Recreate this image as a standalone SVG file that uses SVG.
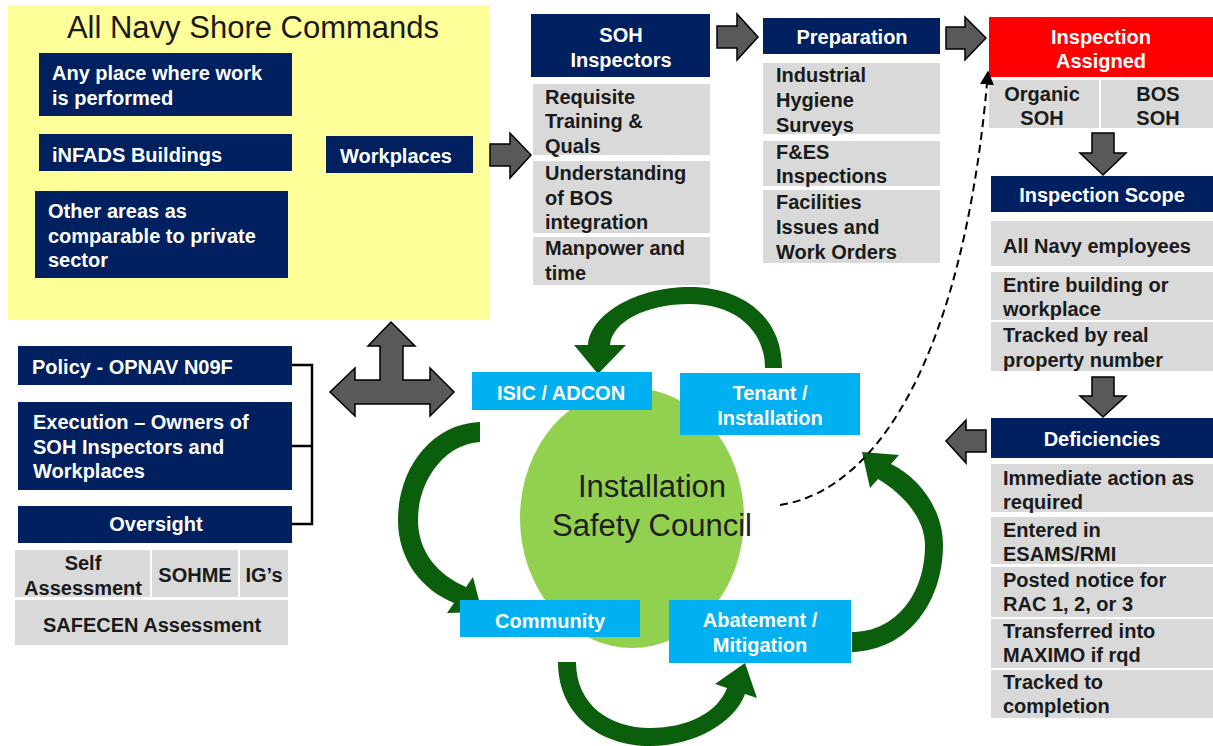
<svg xmlns="http://www.w3.org/2000/svg" width="1213" height="746" viewBox="0 0 1213 746">
<style>
.navy{fill:#002060}
.gray{fill:#D9D9D9}
.cyan{fill:#00B0F0}
.wt{font-family:"Liberation Sans",Arial,sans-serif;font-weight:bold;font-size:20px;fill:#ffffff}
.bt{font-family:"Liberation Sans",Arial,sans-serif;font-weight:bold;font-size:20px;fill:#1a1a1a}
.c{text-anchor:middle}
.blk{fill:#595959;stroke:#000;stroke-width:1.5;stroke-linejoin:miter}
.grn{fill:#0B5E0B}
</style>
<defs>
<marker id="ah" viewBox="0 0 10 10" refX="9" refY="5" markerWidth="7" markerHeight="7" orient="auto">
<path d="M0,0 L10,5 L0,10 Z" fill="#000"/>
</marker>
</defs>
<rect width="1213" height="746" fill="#ffffff"/>

<g id="shore">
<rect x="8" y="5" width="482" height="315" fill="#FFFF99"/>
<text x="253" y="38" class="c" font-family="Liberation Sans,Arial,sans-serif" font-size="31" fill="#1a1a1a">All Navy Shore Commands</text>
</g>
<g id="anyplace"><rect x="39" y="53" width="253" height="63" class="navy"/>
<text class="wt" x="52" y="80">Any place where work</text><text class="wt" x="52" y="105">is performed</text></g>
<g id="infads"><rect x="39" y="134" width="253" height="37" class="navy"/>
<text class="wt" x="52" y="162">iNFADS Buildings</text></g>
<g id="otherareas"><rect x="35" y="191" width="253" height="87" class="navy"/>
<text class="wt" x="48" y="218">Other areas as</text><text class="wt" x="48" y="243">comparable to private</text><text class="wt" x="48" y="267">sector</text></g>
<g id="workplaces"><rect x="326" y="136" width="147" height="37" class="navy"/>
<text class="wt" x="340" y="163">Workplaces</text></g>

<g id="soh">
<rect x="531" y="14" width="179" height="63" class="navy"/>
<text class="wt c" x="621" y="42">SOH</text><text class="wt c" x="621" y="67">Inspectors</text>
<rect x="533" y="84" width="177" height="71" class="gray"/>
<text class="bt" x="545" y="104">Requisite</text><text class="bt" x="545" y="128">Training &amp;</text><text class="bt" x="545" y="153">Quals</text>
<rect x="533" y="161" width="177" height="72" class="gray"/>
<text class="bt" x="545" y="180">Understanding</text><text class="bt" x="545" y="205">of BOS</text><text class="bt" x="545" y="229">integration</text>
<rect x="533" y="237" width="177" height="48" class="gray"/>
<text class="bt" x="545" y="255">Manpower and</text><text class="bt" x="545" y="280">time</text>
</g>

<g id="preparation">
<rect x="763" y="18" width="177" height="36" class="navy"/>
<text class="wt c" x="852" y="44">Preparation</text>
<rect x="763" y="63" width="177" height="71" class="gray"/>
<text class="bt" x="776" y="82">Industrial</text><text class="bt" x="776" y="107">Hygiene</text><text class="bt" x="776" y="132">Surveys</text>
<rect x="763" y="141" width="177" height="45" class="gray"/>
<text class="bt" x="776" y="159">F&amp;ES</text><text class="bt" x="776" y="183">Inspections</text>
<rect x="763" y="190" width="177" height="73" class="gray"/>
<text class="bt" x="776" y="209">Facilities</text><text class="bt" x="776" y="234">Issues and</text><text class="bt" x="776" y="259">Work Orders</text>
</g>

<g id="assigned">
<rect x="989" y="17" width="224" height="60" fill="#FF0000"/>
<text class="wt c" x="1101" y="44">Inspection</text><text class="wt c" x="1101" y="68">Assigned</text>
<rect x="989" y="80" width="110" height="48" class="gray"/>
<rect x="1101" y="80" width="112" height="48" class="gray"/>
<text class="bt c" x="1042" y="101">Organic</text><text class="bt c" x="1042" y="125">SOH</text>
<text class="bt c" x="1158" y="101">BOS</text><text class="bt c" x="1158" y="125">SOH</text>
</g>

<g id="scope">
<rect x="991" y="176" width="222" height="36" class="navy"/>
<text class="wt c" x="1102" y="202">Inspection Scope</text>
<rect x="991" y="221" width="222" height="45" class="gray"/>
<text class="bt" x="1003" y="253">All Navy employees</text>
<rect x="991" y="272" width="222" height="48" class="gray"/>
<text class="bt" x="1003" y="292">Entire building or</text><text class="bt" x="1003" y="316">workplace</text>
<rect x="991" y="322" width="222" height="49" class="gray"/>
<text class="bt" x="1003" y="342">Tracked by real</text><text class="bt" x="1003" y="367">property number</text>
</g>

<g id="deficiencies">
<rect x="991" y="418" width="222" height="40" class="navy"/>
<text class="wt c" x="1102" y="446">Deficiencies</text>
<rect x="991" y="464" width="222" height="48" class="gray"/>
<text class="bt" x="1003" y="485">Immediate action as</text><text class="bt" x="1003" y="509">required</text>
<rect x="991" y="517" width="222" height="47" class="gray"/>
<text class="bt" x="1003" y="537">Entered in</text><text class="bt" x="1003" y="561">ESAMS/RMI</text>
<rect x="991" y="567" width="222" height="50" class="gray"/>
<text class="bt" x="1003" y="587">Posted notice for</text><text class="bt" x="1003" y="611">RAC 1, 2, or 3</text>
<rect x="991" y="619" width="222" height="49" class="gray"/>
<text class="bt" x="1003" y="638">Transferred into</text><text class="bt" x="1003" y="662">MAXIMO if rqd</text>
<rect x="991" y="670" width="222" height="48" class="gray"/>
<text class="bt" x="1003" y="689">Tracked to</text><text class="bt" x="1003" y="713">completion</text>
</g>

<g id="policy"><rect x="18" y="346" width="274" height="39" class="navy"/>
<text class="wt" x="32" y="374">Policy - OPNAV N09F</text></g>
<g id="execution"><rect x="18" y="402" width="274" height="88" class="navy"/>
<text class="wt" x="33" y="429">Execution – Owners of</text><text class="wt" x="33" y="454">SOH Inspectors and</text><text class="wt" x="33" y="478">Workplaces</text></g>
<g id="oversight"><rect x="18" y="506" width="274" height="37" class="navy"/>
<text class="wt c" x="156" y="531">Oversight</text>
<rect x="15" y="550" width="135" height="47" class="gray"/>
<rect x="152" y="550" width="86" height="47" class="gray"/>
<rect x="240" y="550" width="48" height="47" class="gray"/>
<rect x="15" y="600" width="273" height="45" class="gray"/>
<text class="bt c" x="83" y="570">Self</text><text class="bt c" x="83" y="595">Assessment</text>
<text class="bt c" x="195" y="582">SOHME</text><text class="bt c" x="264" y="582">IG’s</text>
<text class="bt c" x="152" y="632">SAFECEN Assessment</text>
</g>

<g id="council">
<ellipse cx="632" cy="518" rx="112" ry="130" fill="#92D050"/>
<text x="652" y="497" class="c" font-family="Liberation Sans,Arial,sans-serif" font-size="31" fill="#1f1f1f">Installation</text>
<text x="652" y="536" class="c" font-family="Liberation Sans,Arial,sans-serif" font-size="31" fill="#1f1f1f">Safety Council</text>
</g>

<g id="connectors">
<polygon class="blk" points="490,144 510,144 510,133 531,155 510,178 510,166 490,166"/>
<polygon class="blk" points="717,26 737,26 737,14 758,37 737,60 737,48 717,48"/>
<polygon class="blk" points="946,27 965,27 965,17 986,38 965,60 965,49 946,49"/>
<polygon class="blk" points="1092,133 1114,133 1114,153 1126,153 1103,175 1080,153 1092,153"/>
<polygon class="blk" points="1092,377 1114,377 1114,396 1126,396 1103,417 1080,396 1092,396"/>
<polygon class="blk" points="986,430 966,430 966,420 946,441 966,463 966,452 986,452"/>
<polygon class="blk" points="391,322 415,346 403,346 403,380 430,380 430,368 454,392 430,416 430,404 355,404 355,416 330,392 355,368 355,380 380,380 380,346 368,346"/>
<path d="M292,365 H312 V524 H292 M292,446 H312" fill="none" stroke="#000" stroke-width="2.5"/>
<path class="grn" d="M782,368 C782,315 740,287 690,287 C635,287 590,315 588,345 L574,345 L598,374 L626,345 L610,345 C612,322 645,304 690,304 C735,304 765,330 765,368 Z"/>
<path class="grn" d="M480,422 C430,424 398,470 398,520 C398,560 422,590 454,603 L447,613 L482,612 L473,577 L466,587 C438,575 418,552 418,520 C418,480 445,444 480,442 Z"/>
<path class="grn" d="M558,662 C558,715 600,746 650,746 C695,746 735,722 745,694 L757,698 L745,663 L715,684 L727,688 C718,712 688,728 650,728 C610,728 576,705 576,662 Z"/>
<path class="grn" d="M852,652 C910,650 943,600 943,545 C943,510 920,478 891,464 L899,455 L862,452 L870,488 L878,479 C905,495 925,520 925,545 C925,595 895,632 852,632 Z"/>
<path d="M780,505 C880,490 965,350 988,72" fill="none" stroke="#000" stroke-width="2" stroke-dasharray="8,5" marker-end="url(#ah)"/>
</g>

<g id="isic"><rect x="472" y="372" width="180" height="38" class="cyan"/>
<text class="wt c" x="561" y="400">ISIC / ADCON</text></g>
<g id="tenant"><rect x="680" y="373" width="180" height="62" class="cyan"/>
<text class="wt c" x="770" y="400">Tenant /</text><text class="wt c" x="770" y="425">Installation</text></g>
<g id="community"><rect x="460" y="600" width="180" height="37" class="cyan"/>
<text class="wt c" x="550" y="628">Community</text></g>
<g id="abatement"><rect x="669" y="600" width="182" height="63" class="cyan"/>
<text class="wt c" x="760" y="627">Abatement /</text><text class="wt c" x="760" y="652">Mitigation</text></g>
</svg>
